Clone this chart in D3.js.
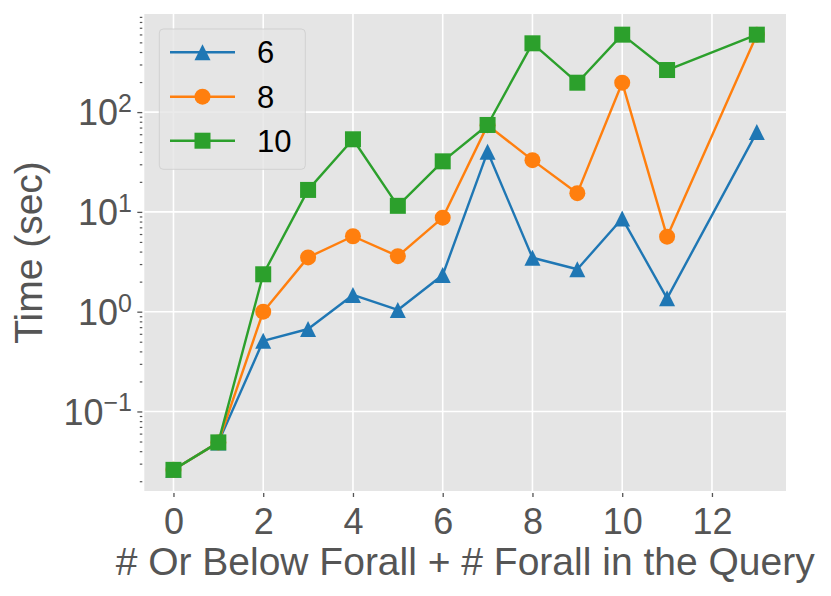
<!DOCTYPE html>
<html><head><meta charset="utf-8">
<script src="https://cdn.jsdelivr.net/npm/d3@7"></script>
<style>
html,body{margin:0;padding:0;background:#fff;}
svg{display:block;font-family:"Liberation Sans",Arial,Helvetica,sans-serif;}
</style></head>
<body><svg id="c" width="831" height="596"></svg>
<script>
// ---- data ----
const xs = [0, 1, 2, 3, 4, 5, 6, 7, 8, 9, 10, 11, 13];
const seriesNames = ["6", "8", "10"];
const values6  = [0.026, 0.049, 0.51, 0.67, 1.47, 1.04, 2.33, 40, 3.47, 2.66, 8.6, 1.36, 63];
const values8  = [0.026, 0.049, 1.0, 3.5, 5.7, 3.6, 8.75, 74, 33, 15.4, 197, 5.64, 597];
const values10 = [0.026, 0.049, 2.37, 16.6, 53.4, 11.5, 32.1, 74.3, 489, 197, 597, 264, 597];
const xTicks = [0, 2, 4, 6, 8, 10, 12];
const yTickExps = [-1, 0, 1, 2];
const xLabel = "# Or Below Forall + # Forall in the Query";
const yLabel = "Time (sec)";

const colors = ["#1f77b4", "#ff7f0e", "#2ca02c"];
const shapes = ["triangle", "circle", "square"];
const allValues = [values6, values8, values10];

const svg = d3.select("#c");
const L = 144.3, R = 786, T = 14, B = 491;

const x = d3.scaleLinear().domain([-0.65, 13.65]).range([L, R]);
const y = d3.scaleLog().domain([Math.pow(10, -1.797), Math.pow(10, 2.983)]).range([B, T]);

svg.append("rect").attr("x", L).attr("y", T).attr("width", R - L).attr("height", B - T).attr("fill", "#e5e5e5");

// grid
const grid = svg.append("g");
xTicks.forEach(t => grid.append("line").attr("x1", x(t)).attr("x2", x(t)).attr("y1", T).attr("y2", B)
  .attr("stroke", "#fff").attr("stroke-width", 1.6));
yTickExps.forEach(e => grid.append("line").attr("x1", L).attr("x2", R).attr("y1", y(Math.pow(10, e))).attr("y2", y(Math.pow(10, e)))
  .attr("stroke", "#fff").attr("stroke-width", 1.6));

// x axis
const xAxis = d3.axisBottom(x).tickValues(xTicks).tickSize(4).tickPadding(8).tickFormat(d3.format("d"));
const gx = svg.append("g").attr("transform", `translate(0,${B + 2})`).call(xAxis);
gx.select(".domain").remove();
gx.selectAll(".tick line").attr("stroke", "#555").attr("stroke-width", 1.3);
gx.selectAll(".tick text").attr("fill", "#555").attr("font-size", 36).attr("dy", null).attr("y", 40.7)
  .attr("font-family", "Liberation Sans, Arial, sans-serif");

// y axis: minor ticks
const minor = [];
for (let e = -2; e <= 2; e++) for (let k = 2; k <= 9; k++) {
  const v = k * Math.pow(10, e);
  if (y(v) >= T - 0.5 && y(v) <= B) minor.push(v);
}
const gy = svg.append("g").attr("transform", `translate(${L - 2},0)`);
gy.call(d3.axisLeft(y).tickValues(minor).tickSize(2.5).tickFormat(""));
gy.select(".domain").remove();
gy.selectAll(".tick line").attr("stroke", "#555").attr("stroke-width", 1.2);
const gyM = svg.append("g").attr("transform", `translate(${L - 2},0)`);
gyM.call(d3.axisLeft(y).tickValues(yTickExps.map(e => Math.pow(10, e))).tickSize(5).tickFormat(""));
gyM.select(".domain").remove();
gyM.selectAll(".tick line").attr("stroke", "#555").attr("stroke-width", 1.3);
// major labels 10^e
yTickExps.forEach(e => {
  const ty = y(Math.pow(10, e));
  const t = svg.append("text").attr("x", 132).attr("y", ty + 13.3).attr("text-anchor", "end")
    .attr("fill", "#555").attr("font-size", 36);
  t.append("tspan").text("10");
  t.append("tspan").attr("font-size", 25).attr("dy", -13.3).text(e < 0 ? "\u2212" + (-e) : String(e));
});

// axis labels
svg.append("text").attr("x", (L + R) / 2).attr("y", 575).attr("text-anchor", "middle")
  .attr("fill", "#555").attr("font-size", 39).text(xLabel);
svg.append("text").attr("transform", `translate(42,${(T + B) / 2}) rotate(-90)`).attr("text-anchor", "middle")
  .attr("fill", "#555").attr("font-size", 39).text(yLabel);

// symbols
function marker(g, shape, cx, cy, color) {
  if (shape === "circle") {
    g.append("circle").attr("cx", cx).attr("cy", cy).attr("r", 8).attr("fill", color);
  } else if (shape === "square") {
    g.append("rect").attr("x", cx - 8).attr("y", cy - 8).attr("width", 16).attr("height", 16).attr("fill", color);
  } else {
    g.append("path").attr("d", `M${cx},${cy - 8}L${cx - 8},${cy + 8}L${cx + 8},${cy + 8}Z`).attr("fill", color);
  }
}

const line = d3.line().x((d, i) => x(xs[i])).y(d => y(d));
allValues.forEach((vals, si) => {
  const g = svg.append("g");
  g.append("path").datum(vals).attr("d", line).attr("fill", "none").attr("stroke", colors[si])
    .attr("stroke-width", 2.4).attr("stroke-linejoin", "round");
  vals.forEach((v, i) => marker(g, shapes[si], x(xs[i]), y(v), colors[si]));
});

// legend
const lg = svg.append("g");
lg.append("rect").attr("x", 159.3).attr("y", 29).attr("width", 146).attr("height", 140.3).attr("rx", 4)
  .attr("fill", "#e5e5e5").attr("fill-opacity", 0.8).attr("stroke", "#cccccc").attr("stroke-opacity", 0.8).attr("stroke-width", 1);
const rowsY = [52.3, 96.7, 140.7];
seriesNames.forEach((n, i) => {
  lg.append("line").attr("x1", 170).attr("x2", 235).attr("y1", rowsY[i]).attr("y2", rowsY[i])
    .attr("stroke", colors[i]).attr("stroke-width", 2.4);
  marker(lg, shapes[i], 202.5, rowsY[i], colors[i]);
  lg.append("text").attr("x", 257).attr("y", rowsY[i] + 11).attr("font-size", 31).attr("fill", "#000").text(n);
});
</script></body></html>
